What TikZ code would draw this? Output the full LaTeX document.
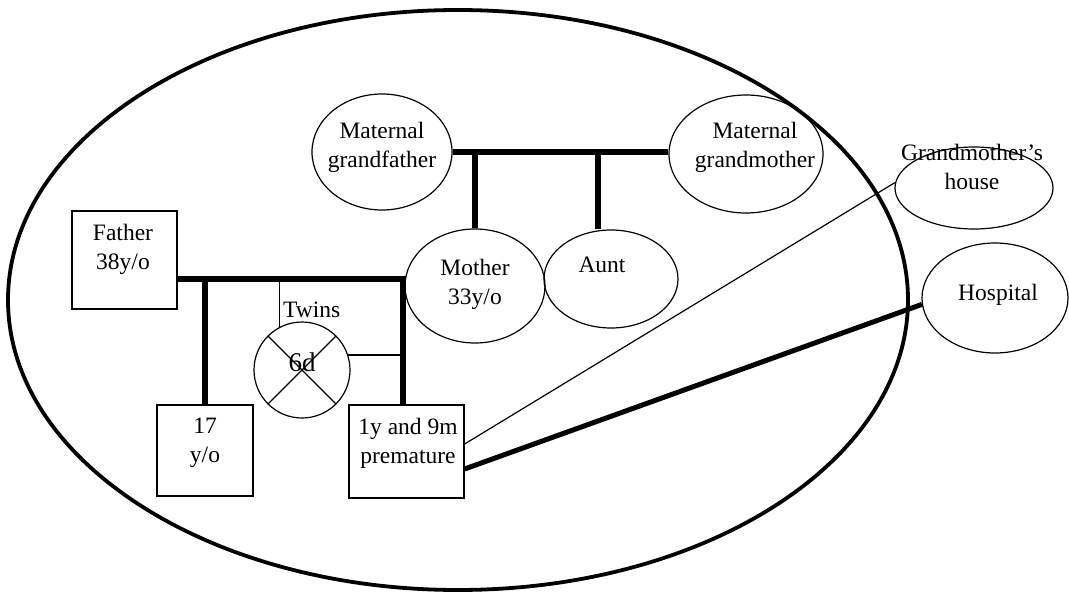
\documentclass[tikz,border=0pt]{standalone}
\usepackage{fontspec}
\setmainfont{Liberation Serif}
\usetikzlibrary{
  shapes.geometric, % for the ellipse shape
}
\tikzset{
  person/.style={ % style for each person or place drawn as an ellipse
    ellipse,draw,line width=1.2pt,
    inner sep=0pt,
  },
  boxed/.style={ % style for the male family members
    rectangle,draw,line width=1.2pt,
    inner sep=0pt,
  },
  lbl/.style={ % style for the texts
    align=center,inner sep=0pt,
    font=\fontsize{23.5}{29}\selectfont,
  },
  tie/.style={ % family ties
    line width=5.5pt,
  },
  link/.style={ % thin connections
    line width=1.2pt,
  },
}

\begin{document}
\begin{tikzpicture}[x=1pt,y=-1pt]
	\useasboundingbox (0,0) rectangle (1069,594);

	\node[ellipse,draw,line width=3.8pt,minimum width=900pt,minimum height=580pt] (ring) at (458,300) {};

	\node[person,minimum width=140pt,minimum height=116pt] (mgf) at (382,152) {};
	\node[person,minimum width=154pt,minimum height=118pt] (mgm) at (746,154) {};
	\node[person,minimum width=140pt,minimum height=114pt] (mother) at (475,286) {};
	\node[person,minimum width=134pt,minimum height=98pt] (aunt) at (611,279) {};
	\node[person,minimum width=158pt,minimum height=82pt] (gh) at (974,188) {};
	\node[person,minimum width=146pt,minimum height=110pt] (hosp) at (995,298) {};
	\node[boxed,minimum width=105pt,minimum height=98pt] (father) at (124.5,260) {};
	\node[boxed,minimum width=96pt,minimum height=91pt] (son17) at (205,450.5) {};
	\node[boxed,minimum width=115pt,minimum height=93pt] (prem) at (406.5,451.5) {};
	\node[circle,draw,line width=1.2pt,inner sep=0pt,minimum size=96pt] (twins) at (302,370) {};

	\node[lbl] (mgf-t) at (382,147) {Maternal\\grandfather};
	\node[lbl] (mgm-t) at (755,147) {Maternal\\grandmother};
	\node[lbl] (mother-t) at (475,284) {Mother\\33y/o};
	\node[lbl] (aunt-t) at (602,265) {Aunt};
	\node[lbl] (gh-t) at (972,167) {Grandmother’s\\house};
	\node[lbl] (hosp-t) at (998,295) {Hospital};
	\node[lbl] (father-t) at (123,249) {Father\\38y/o};
	\node[lbl] (son17-t) at (205,443) {17\\y/o};
	\node[lbl] (prem-t) at (408,443.5) {1y and 9m\\premature};
	\node[lbl,anchor=west] (twins-t) at (283,310) {Twins};
	\node[lbl,font=\fontsize{27}{30}\selectfont] (sixd) at ([yshift=8pt]twins.center) {6d};

	% ties
	\coordinate (fm) at (403,279);
	\coordinate (ab) at (598,153);
	\draw[tie] (father.east |- fm) -- (fm) -- (fm |- prem.north);
	\draw[tie] (fm -| son17.north) -- (son17.north);
	\draw[tie] (mgf.east) -- (mgf.east -| mgm.west);
	\draw[tie] (mgf.east -| mother.north) -- (mother.north);
	\draw[tie] (ab) -- (ab |- aunt.north);

	% twins
	\draw[link] (twins.118) -- (twins.118 |- fm);
	\draw[link] (twins.18) -- (twins.18 -| fm);
	\draw[link] (twins.45) -- (twins.225) (twins.135) -- (twins.315);

	% places
	\draw[link] ([yshift=7.5pt]prem.east) -- (gh.176);
	\draw[tie,line width=5pt] ([yshift=-17.5pt]prem.east) -- (hosp.185);
\end{tikzpicture}
\end{document}
